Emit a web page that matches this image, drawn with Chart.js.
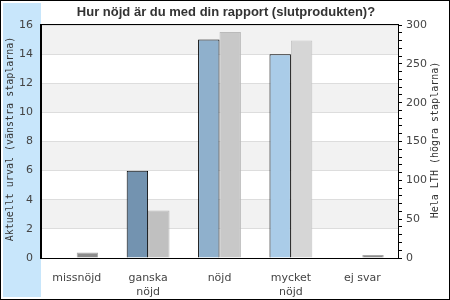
<!DOCTYPE html>
<html>
<head>
<meta charset="utf-8">
<script src="https://cdn.jsdelivr.net/npm/chart.js@4/dist/chart.umd.min.js"></script>
<style>
  html, body { margin: 0; padding: 0; background: #fff; }
  #wrap { width: 450px; height: 300px; }
</style>
</head>
<body>
<div id="wrap"><canvas id="chart" width="450" height="300"></canvas></div>
<script>
const titleText = "Hur nöjd är du med din rapport (slutprodukten)?";
const categories = [["missnöjd"], ["ganska", "nöjd"], ["nöjd"], ["mycket", "nöjd"], ["ej svar"]];
const urval = [0, 6, 15, 14, 0];
const helaLTH = [7, 61, 291, 280, 4];
const urvalColors = ["#7393b0", "#7393b0", "#8fb0cc", "#aacce8", "#aacce8"];
const lthColors = ["#8c8c8c", "#c0c0c0", "#c8c8c8", "#d6d6d6", "#8c8c8c"];
const lthBorders = ["#a8a8a8", "#b4b4b4", "#bababa", "#c4c4c4", "#a8a8a8"];
const leftTitle = "Aktuellt urval (vänstra staplarna)";
const rightTitle = "Hela LTH (högra staplarna)";

// background, frame, bands and titles
const decor = {
  id: "decor",
  beforeDraw(chart) {
    const ctx = chart.ctx;
    const a = chart.chartArea;
    const y = chart.scales.y;
    ctx.save();
    ctx.fillStyle = "#fff";
    ctx.fillRect(0, 0, chart.width, chart.height);
    ctx.fillStyle = "#c8e6fb";
    ctx.fillRect(3, 3, a.left - 3, chart.height - 6);
    ctx.strokeStyle = "#000";
    ctx.lineWidth = 1;
    ctx.strokeRect(0.5, 0.5, chart.width - 1, chart.height - 1);
    // alternating bands
    ctx.fillStyle = "#f2f2f2";
    for (let v = 2; v < 16; v += 4) {
      const top = y.getPixelForValue(v + 2);
      const bot = y.getPixelForValue(v);
      ctx.fillRect(a.left, top, a.right - a.left, bot - top);
    }
    ctx.restore();
  },
  afterDraw(chart) {
    const ctx = chart.ctx;
    const a = chart.chartArea;
    ctx.save();
    ctx.strokeStyle = "#000";
    ctx.lineWidth = 1;
    ctx.strokeRect(Math.round(a.left) - 0.5, Math.round(a.top) - 0.5, Math.round(a.right - a.left) + 1, Math.round(a.bottom - a.top) + 1);
    ctx.fillStyle = "#333";
    ctx.font = "bold 13px 'Liberation Sans', Arial, sans-serif";
    ctx.textAlign = "center";
    ctx.textBaseline = "middle";
    ctx.fillText(titleText, 226, 12);
    ctx.fillStyle = "#333";
    ctx.font = "10px 'DejaVu Sans Mono', monospace";
    ctx.translate(10, 139);
    ctx.rotate(-Math.PI / 2);
    ctx.fillText(leftTitle, 0, 0);
    ctx.rotate(Math.PI / 2);
    ctx.translate(-10, -139);
    ctx.translate(435, 140);
    ctx.rotate(-Math.PI / 2);
    ctx.fillText(rightTitle, 0, 0);
    ctx.restore();
  }
};

const ctx = document.getElementById("chart").getContext("2d");
const chart = new Chart(ctx, {
  type: "bar",
  data: {
    labels: categories,
    datasets: [{
      label: leftTitle,
      data: urval,
      yAxisID: "y",
      backgroundColor: urvalColors,
      borderColor: "#000",
      borderWidth: c => c.raw === 0 ? 0 : 1,
      borderSkipped: "start",
      categoryPercentage: 0.6,
      barPercentage: 1.0
    }, {
      label: rightTitle,
      data: helaLTH,
      yAxisID: "y1",
      backgroundColor: lthColors,
      borderColor: lthBorders,
      borderWidth: 1,
      borderSkipped: "start",
      categoryPercentage: 0.6,
      barPercentage: 1.0
    }]
  },
  options: {
    responsive: false,
    animation: false,
    layout: { padding: { top: 25, left: 0, right: 0, bottom: 0 } },
    plugins: {
      legend: { display: false },
      title: { display: false },
      tooltip: { enabled: false }
    },
    scales: {
      x: {
        grid: { display: false },
        border: { color: "#000" },
        ticks: {
          color: "#444",
          font: { family: "'DejaVu Sans', sans-serif", size: 11 },
          padding: 6,
          maxRotation: 0
        },
        afterFit(s) { s.height = 42; }
      },
      y: {
        position: "left",
        min: 0,
        max: 16,
        grid: { color: "#dddddd", drawTicks: false },
        border: { color: "#000" },
        ticks: {
          stepSize: 2,
          color: "#444",
          padding: 8,
          font: { family: "'DejaVu Sans', sans-serif", size: 11 }
        },
        afterFit(s) { s.width = 41; }
      },
      y1: {
        position: "right",
        min: 0,
        max: 300,
        grid: { drawOnChartArea: false, color: "#000", tickLength: 4 },
        border: { color: "#000" },
        ticks: {
          stepSize: 10,
          color: "#444",
          padding: 4,
          autoSkip: false,
          font: { family: "'DejaVu Sans', sans-serif", size: 11 },
          callback: v => v % 50 === 0 ? v : ""
        },
        afterFit(s) { s.width = 52; }
      }
    }
  },
  plugins: [decor]
});
</script>
</body>
</html>
